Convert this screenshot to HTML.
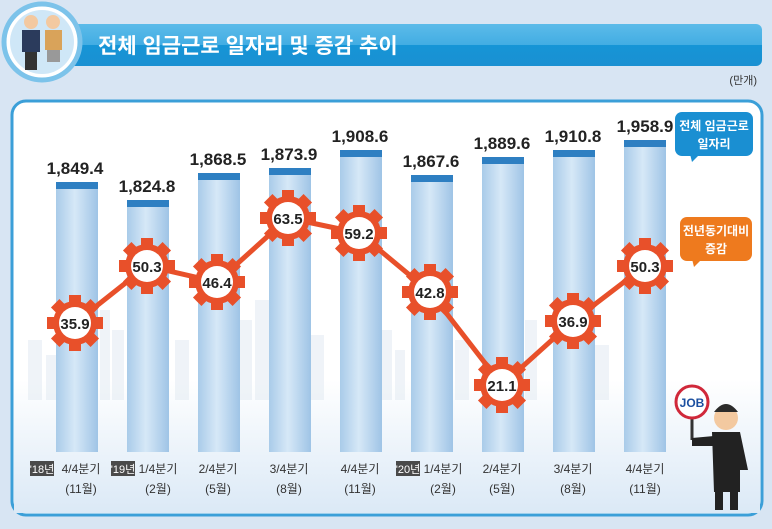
<!DOCTYPE html>
<html><head><meta charset="utf-8"><style>
body{margin:0;width:772px;height:524px;background:#d8e5f3;overflow:hidden;font-family:"Liberation Sans","Noto Sans CJK KR",sans-serif}
</style></head><body>
<svg width="772" height="524" viewBox="0 0 772 524" xmlns="http://www.w3.org/2000/svg" style="font-family:'Liberation Sans','Noto Sans CJK KR',sans-serif">
<defs>
<linearGradient id="tb" x1="0" y1="0" x2="0" y2="1"><stop offset="0" stop-color="#5cbbe9"/><stop offset="0.5" stop-color="#42ade3"/><stop offset="0.5" stop-color="#1695d6"/><stop offset="1" stop-color="#1a90d2"/></linearGradient>
<linearGradient id="bar" x1="0" y1="0" x2="1" y2="0"><stop offset="0" stop-color="#a9cbe9"/><stop offset="0.45" stop-color="#d6e8f7"/><stop offset="1" stop-color="#9fc4e6"/></linearGradient>
<linearGradient id="floor" x1="0" y1="0" x2="0" y2="1"><stop offset="0" stop-color="#ffffff"/><stop offset="1" stop-color="#dbe9f6"/></linearGradient>
<g id="gear">
<g fill="#e8502a">
<rect x="-6" y="-28" width="12" height="56"/>
<rect x="-6" y="-28" width="12" height="56" transform="rotate(45)"/>
<rect x="-6" y="-28" width="12" height="56" transform="rotate(90)"/>
<rect x="-6" y="-28" width="12" height="56" transform="rotate(135)"/>
<circle r="22"/>
</g>
<circle r="16" fill="#fff"/>
</g>
</defs>
<rect x="60" y="24" width="702" height="42" rx="6" fill="url(#tb)"/>
<circle cx="42" cy="42" r="38" fill="#fff" stroke="#7cc3ea" stroke-width="5"/>
<circle cx="42" cy="42" r="32" fill="#cfe7f7"/>
<rect x="22" y="30" width="18" height="22" fill="#2b3b5c"/><circle cx="31" cy="22" r="7" fill="#f3c9a0"/><rect x="25" y="52" width="12" height="18" fill="#333"/>
<rect x="45" y="30" width="17" height="20" fill="#d9a35a"/><circle cx="53" cy="22" r="7" fill="#f3c9a0"/><rect x="47" y="50" width="13" height="12" fill="#999"/>
<text x="98" y="53" font-size="21" font-weight="bold" fill="#fff">전체 임금근로 일자리 및 증감 추이</text>
<text x="757" y="84" font-size="11" fill="#333" text-anchor="end">(만개)</text>
<rect x="12" y="101" width="750" height="414" rx="14" fill="#fff" stroke="#3b9fd8" stroke-width="3"/>
<rect x="14" y="380" width="746" height="133" fill="url(#floor)"/>
<g fill="#e3ebf3" opacity="0.55">
<rect x="28" y="340" width="14" height="60"/><rect x="46" y="355" width="10" height="45"/><rect x="100" y="310" width="10" height="90"/><rect x="112" y="330" width="12" height="70"/>
<rect x="175" y="340" width="14" height="60"/><rect x="240" y="320" width="12" height="80"/><rect x="255" y="300" width="14" height="100"/><rect x="310" y="335" width="14" height="65"/>
<rect x="380" y="330" width="12" height="70"/><rect x="395" y="350" width="10" height="50"/><rect x="455" y="340" width="14" height="60"/><rect x="525" y="320" width="12" height="80"/><rect x="595" y="345" width="14" height="55"/>
</g>
<g>
<rect x="56" y="182" width="42" height="270" fill="url(#bar)"/><rect x="56" y="182" width="42" height="7" fill="#2e7fc2"/>
<rect x="127" y="200" width="42" height="252" fill="url(#bar)"/><rect x="127" y="200" width="42" height="7" fill="#2e7fc2"/>
<rect x="198" y="173" width="42" height="279" fill="url(#bar)"/><rect x="198" y="173" width="42" height="7" fill="#2e7fc2"/>
<rect x="269" y="168" width="42" height="284" fill="url(#bar)"/><rect x="269" y="168" width="42" height="7" fill="#2e7fc2"/>
<rect x="340" y="150" width="42" height="302" fill="url(#bar)"/><rect x="340" y="150" width="42" height="7" fill="#2e7fc2"/>
<rect x="411" y="175" width="42" height="277" fill="url(#bar)"/><rect x="411" y="175" width="42" height="7" fill="#2e7fc2"/>
<rect x="482" y="157" width="42" height="295" fill="url(#bar)"/><rect x="482" y="157" width="42" height="7" fill="#2e7fc2"/>
<rect x="553" y="150" width="42" height="302" fill="url(#bar)"/><rect x="553" y="150" width="42" height="7" fill="#2e7fc2"/>
<rect x="624" y="140" width="42" height="312" fill="url(#bar)"/><rect x="624" y="140" width="42" height="7" fill="#2e7fc2"/>
</g>
<g font-size="17" font-weight="bold" fill="#222" text-anchor="middle">
<text x="75" y="174">1,849.4</text><text x="147" y="192">1,824.8</text><text x="218" y="165">1,868.5</text>
<text x="289" y="160">1,873.9</text><text x="360" y="142">1,908.6</text><text x="431" y="167">1,867.6</text>
<text x="502" y="149">1,889.6</text><text x="573" y="142">1,910.8</text><text x="645" y="132">1,958.9</text>
</g>
<polyline points="75,323 147,266 217,282 288,218 359,233 430,292 502,385 573,321 645,266" fill="none" stroke="#e8502a" stroke-width="5"/>
<g font-size="15" font-weight="bold" fill="#222" text-anchor="middle">
<use href="#gear" x="75" y="323"/><text x="75" y="329">35.9</text>
<use href="#gear" x="147" y="266"/><text x="147" y="272">50.3</text>
<use href="#gear" x="217" y="282"/><text x="217" y="288">46.4</text>
<use href="#gear" x="288" y="218"/><text x="288" y="224">63.5</text>
<use href="#gear" x="359" y="233"/><text x="359" y="239">59.2</text>
<use href="#gear" x="430" y="292"/><text x="430" y="298">42.8</text>
<use href="#gear" x="502" y="385"/><text x="502" y="391">21.1</text>
<use href="#gear" x="573" y="321"/><text x="573" y="327">36.9</text>
<use href="#gear" x="645" y="266"/><text x="645" y="272">50.3</text>
</g>
<rect x="675" y="112" width="78" height="44" rx="7" fill="#1a8fd2"/><polygon points="690,154 700,154 692,162" fill="#1a8fd2"/>
<text x="714" y="130" font-size="12" font-weight="bold" fill="#fff" text-anchor="middle">전체 임금근로</text>
<text x="714" y="148" font-size="12" font-weight="bold" fill="#fff" text-anchor="middle">일자리</text>
<rect x="680" y="217" width="72" height="44" rx="7" fill="#ee7a1e"/><polygon points="692,259 702,259 694,267" fill="#ee7a1e"/>
<text x="716" y="235" font-size="12" font-weight="bold" fill="#fff" text-anchor="middle">전년동기대비</text>
<text x="716" y="253" font-size="12" font-weight="bold" fill="#fff" text-anchor="middle">증감</text>
<line x1="692" y1="410" x2="692" y2="440" stroke="#333" stroke-width="3"/>
<circle cx="692" cy="402" r="16" fill="#fff" stroke="#d0283a" stroke-width="3"/>
<text x="692" y="407" font-size="12" font-weight="bold" fill="#1b4fa0" text-anchor="middle">JOB</text>
<circle cx="726" cy="418" r="12" fill="#f3c9a0"/><path d="M714 412 Q726 396 738 412 Z" fill="#2b2b2b"/>
<path d="M712 432 L740 432 L748 470 L740 470 L740 492 L714 492 Z" fill="#222"/>
<path d="M692 438 L714 436 L714 446 L692 446 Z" fill="#222"/>
<rect x="715" y="492" width="8" height="18" fill="#222"/><rect x="730" y="492" width="8" height="18" fill="#222"/>
<g font-size="12" fill="#333" text-anchor="middle">
<rect x="30" y="461" width="24" height="15" fill="#4a4a4a"/><text x="42" y="473" fill="#fff" font-size="11">'18년</text>
<text x="81" y="473">4/4분기</text><text x="81" y="493">(11월)</text>
<rect x="111" y="461" width="24" height="15" fill="#4a4a4a"/><text x="123" y="473" fill="#fff" font-size="11">'19년</text>
<text x="158" y="473">1/4분기</text><text x="158" y="493">(2월)</text>
<text x="218" y="473">2/4분기</text><text x="218" y="493">(5월)</text>
<text x="289" y="473">3/4분기</text><text x="289" y="493">(8월)</text>
<text x="360" y="473">4/4분기</text><text x="360" y="493">(11월)</text>
<rect x="396" y="461" width="24" height="15" fill="#4a4a4a"/><text x="408" y="473" fill="#fff" font-size="11">'20년</text>
<text x="443" y="473">1/4분기</text><text x="443" y="493">(2월)</text>
<text x="502" y="473">2/4분기</text><text x="502" y="493">(5월)</text>
<text x="573" y="473">3/4분기</text><text x="573" y="493">(8월)</text>
<text x="645" y="473">4/4분기</text><text x="645" y="493">(11월)</text>
</g>
</svg>
</body></html>
